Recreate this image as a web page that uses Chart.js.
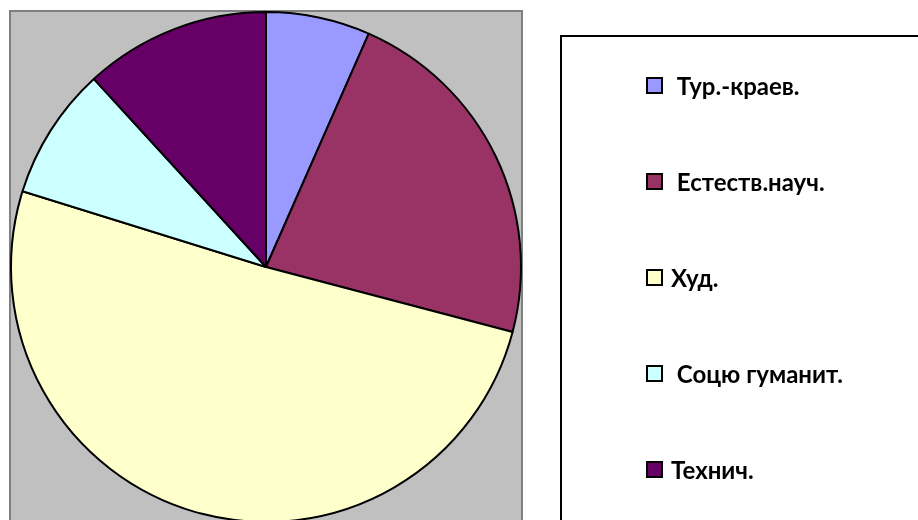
<!DOCTYPE html>
<html>
<head>
<meta charset="utf-8">
<script src="https://cdn.jsdelivr.net/npm/chart.js@4"></script>
<style>
  html, body { margin: 0; padding: 0; background: #fff; overflow: hidden; }
  #wrap { width: 918px; height: 520px; overflow: hidden; }
</style>
</head>
<body>
<div id="wrap"><canvas id="myChart" width="918" height="540"></canvas></div>
<script>
const categories = [' Тур.-краев.', ' Естеств.науч.', 'Худ.', ' Соцю гуманит.', 'Технич.']
const shares = [6.6, 22.5, 50.7, 8.4, 11.8]
const sliceColors = ['#9999FF', '#993366', '#FFFFCC', '#CCFFFF', '#660066']

// gray plot area behind the pie, legend box on the right
const frame = {
    id: 'frame',
    beforeDraw(chart) {
        const c = chart.ctx
        c.save()
        c.fillStyle = '#C0C0C0'
        c.fillRect(10, 11, 512, 540)
        c.strokeStyle = '#808080'
        c.lineWidth = 2
        c.strokeRect(10, 11, 512, 540)
        c.fillStyle = '#ffffff'
        c.fillRect(561, 36, 400, 540)
        c.strokeStyle = '#000000'
        c.lineWidth = 2
        c.strokeRect(561, 36, 400, 540)
        c.restore()
    },
    afterDraw(chart) {
        const c = chart.ctx
        const labels = chart.data.labels
        const colors = chart.data.datasets[0].backgroundColor
        c.save()
        c.font = 'bold 24px Lato, "Open Sans", sans-serif'
        c.textBaseline = 'middle'
        labels.forEach((lab, i) => {
            let y = 86 + i * 96
            c.fillStyle = colors[i]
            c.fillRect(647, y - 8, 15, 15)
            c.strokeStyle = '#000'
            c.lineWidth = 2
            c.strokeRect(647, y - 8, 15, 15)
            c.fillStyle = '#000'
            c.fillText(lab, 671, y + 1)
        })
        c.restore()
    }
}

let ctx = document.getElementById('myChart')
new Chart(ctx, {
    type: 'pie',
    data: {
        labels: categories,
        datasets: [{
            data: shares,
            backgroundColor: sliceColors,
            borderColor: '#000000',
            borderWidth: 2
        }]
    },
    options: {
        responsive: false,
        animation: false,
        layout: { padding: { left: 10, top: 11, right: 396, bottom: 17 } },
        plugins: {
            legend: { display: false },
            tooltip: { enabled: false }
        }
    },
    plugins: [frame]
})
</script>
</body>
</html>
